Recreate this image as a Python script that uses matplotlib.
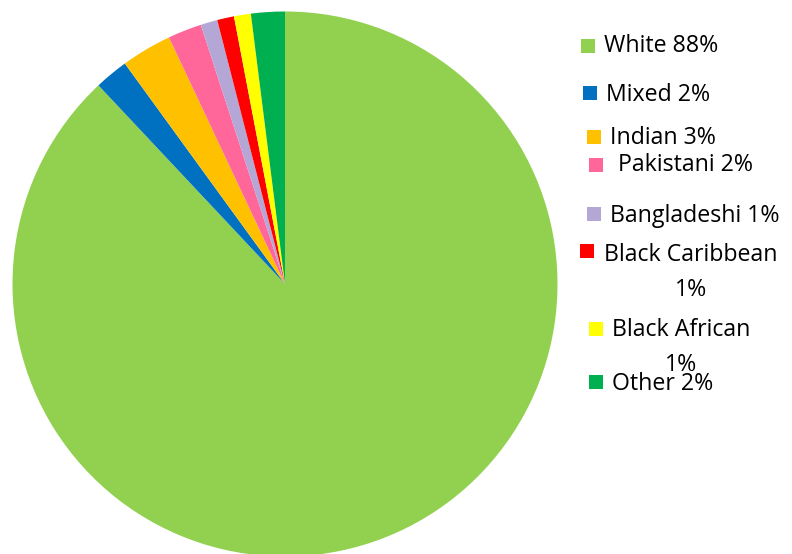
import matplotlib.pyplot as plt
from matplotlib.patches import Rectangle

groups = ["White", "Mixed", "Indian", "Pakistani", "Bangladeshi",
          "Black Caribbean", "Black African", "Other"]
shares = [88, 2, 3, 2, 1, 1, 1, 2]
colours = ["#92D050", "#0070C0", "#FFC000", "#FF6699", "#B4A7D6",
           "#FF0000", "#FFFF00", "#00B050"]

# legend layout (pixels from top-left): square left, square centre y, text left, text centre y
key_pos = [
    (581, 46, 604, 46),
    (583, 93, 606, 95),
    (587, 137, 610, 138),
    (589, 165, 618, 165),
    (587, 214, 610, 216),
    (580, 251, 604, 255),
    (589, 329, 612, 330),
    (589, 382, 612, 384),
]
wrapped = {"Black Caribbean", "Black African"}

W, H = 792, 554
fig = plt.figure(figsize=(W / 100, H / 100), dpi=100)
plt.rcParams['font.family'] = ['Open Sans', 'DejaVu Sans']

cx, cy, r = 285, 284, 272.5
ax = fig.add_axes([(cx - r) / W, (H - cy - r) / H, 2 * r / W, 2 * r / H])
ax.pie(shares, colors=colours, startangle=90, counterclock=False,
       wedgeprops=dict(linewidth=0))
ax.set_xlim(-1, 1)
ax.set_ylim(-1, 1)
ax.set_aspect('equal')
ax.axis('off')

sq = 14
fs = 16.7
for name, val, col, (sx, sy, tx, ty) in zip(groups, shares, colours, key_pos):
    fig.patches.append(Rectangle((sx / W, (H - sy - sq / 2) / H), sq / W, sq / H,
                                 transform=fig.transFigure, facecolor=col,
                                 edgecolor='none'))
    if name in wrapped:
        t = fig.text(tx / W, (H - ty) / H, name, fontsize=fs, va='center', ha='left')
        fig.canvas.draw()
        bb = t.get_window_extent()
        mid = (bb.x0 + bb.x1) / 2
        fig.text(mid / W, (H - ty - 35) / H, f"{val}%", fontsize=fs,
                 va='center', ha='center')
    else:
        fig.text(tx / W, (H - ty) / H, f"{name} {val}%", fontsize=fs,
                 va='center', ha='left')

fig.savefig("out.png", dpi=100)
